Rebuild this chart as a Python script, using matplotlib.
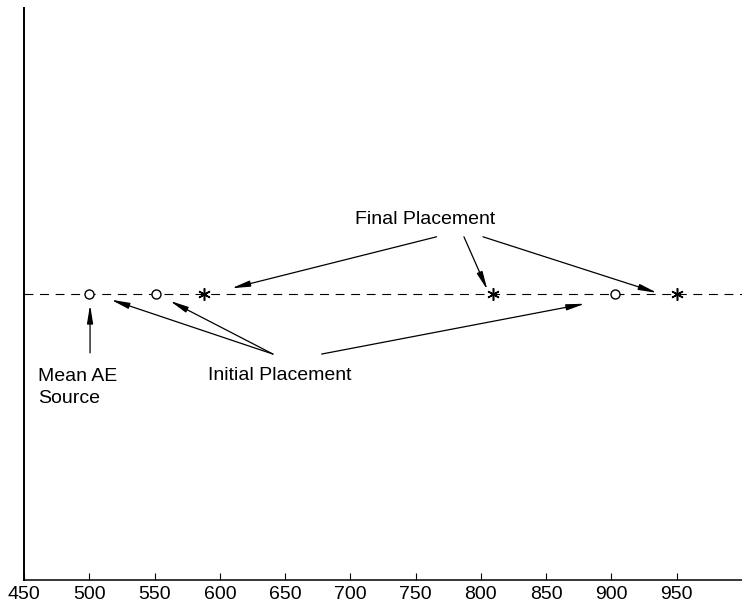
import numpy as np
import matplotlib
matplotlib.use('Agg')
import matplotlib.pyplot as plt

plt.rcParams['font.family'] = ['Liberation Sans', 'DejaVu Sans']

# positions along the line (x axis units)
initial_x = [500, 551, 903]    # open circles
final_x = [588, 809, 950]      # asterisks
line_y = 0.5
x_ticks = [450, 500, 550, 600, 650, 700, 750, 800, 850, 900, 950]

fig = plt.figure(figsize=(7.42, 6.11), dpi=100)
ax = fig.add_axes([24 / 742, 1 - 580 / 611, 1 - 24 / 742, (580 - 8) / 611])

ax.plot([450, 1000], [line_y, line_y], color='black', lw=0.8,
        dashes=(8, 6), zorder=1)
ax.plot(initial_x, [line_y] * len(initial_x), ls='none', marker='o',
        ms=6.5, mfc='white', mec='black', mew=1, zorder=3)
ax.plot(final_x, [line_y] * len(final_x), ls='none', marker=(6, 2, 0),
        ms=9, mec='black', mew=1.1, zorder=3)

ax.set_xlim(450, 1000)
ax.set_ylim(0, 1)
ax.set_xticks(x_ticks)
ax.set_yticks([])
ax.tick_params(axis='x', direction='in', length=5, width=0.8, pad=4,
               labelsize=14)
ax.spines['top'].set_visible(False)
ax.spines['right'].set_visible(False)
ax.spines['left'].set_linewidth(1.4)
ax.spines['bottom'].set_linewidth(1.1)

arrow = dict(arrowstyle='-|>,head_length=1.1,head_width=0.18',
             color='black', lw=0.9, shrinkA=0, shrinkB=0, mutation_scale=10)

# Final Placement
ax.text(757, 0.631, 'Final Placement', fontsize=14, ha='center', va='center')
final_tails = [(766, 0.600), (787, 0.600), (801.6, 0.600)]
final_heads = [(609, 0.510), (805, 0.507), (935, 0.502)]
for tail, head in zip(final_tails, final_heads):
    ax.annotate('', xy=head, xytext=tail, arrowprops=arrow)

# Initial Placement
ax.text(646, 0.358, 'Initial Placement', fontsize=14, ha='center', va='center')
init_tails = [(640.7, 0.395), (640.7, 0.395), (678, 0.395)]
init_heads = [(516.6, 0.490), (561.8, 0.488), (879.7, 0.483)]
for tail, head in zip(init_tails, init_heads):
    ax.annotate('', xy=head, xytext=tail, arrowprops=arrow)

# Mean AE source
ax.text(460.7, 0.337, 'Mean AE\nSource', fontsize=14, ha='left', va='center',
        linespacing=1.4)
ax.annotate('', xy=(500.6, 0.481), xytext=(500.6, 0.397), arrowprops=arrow)

fig.savefig('out.png', dpi=100)
